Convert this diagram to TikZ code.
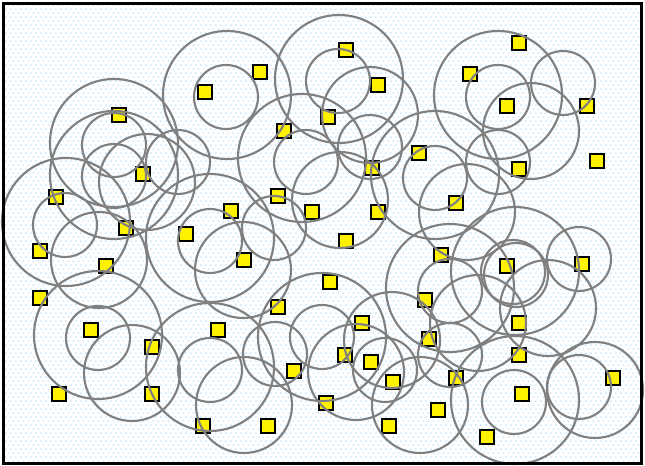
\documentclass[tikz,border=0pt]{standalone}
\usetikzlibrary{patterns}
\definecolor{rangegray}{RGB}{128,128,128}
\definecolor{dotblue}{RGB}{200,232,252}
\pgfdeclarepatternformonly{fielddots}{\pgfqpoint{-0.5pt}{-0.5pt}}{\pgfqpoint{4pt}{6.5pt}}{\pgfqpoint{3.75pt}{6pt}}{
  \pgfpathrectangle{\pgfqpoint{0pt}{0pt}}{\pgfqpoint{1.2pt}{1.2pt}}
  \pgfpathrectangle{\pgfqpoint{1.875pt}{3pt}}{\pgfqpoint{1.2pt}{1.2pt}}
  \pgfusepath{fill}}
\tikzset{
  sensor/.style={draw=black, fill=yellow, line width=1.5pt, minimum size=10.5pt, inner sep=0pt},
  sensing/.style={draw=rangegray, line width=1.6pt},
  frame/.style={draw=black, line width=2.25pt}
}
\begin{document}
\begin{tikzpicture}[x=0.75pt,y=-0.75pt]
  \useasboundingbox (0,0) rectangle (645,466);
  \fill[pattern=fielddots, pattern color=dotblue] (3.5,3.5) rectangle (641.5,463);
  \foreach \x/\y [count=\i] in {346/50,260/72,205/92,378/85,519/43,470/74,507/106,587/106,
    119/115,328/117,284/131,419/153,597/161,143/174,372/168,519/169,56/197,278/196,456/203,
    231/211,312/212,378/212,126/228,186/234,346/241,40/251,244/260,441/255,106/266,507/266,
    582/264,330/282,40/298,278/307,425/300,91/330,218/330,362/323,519/323,152/347,429/339,
    345/355,371/362,519/355,294/371,456/378,393/382,613/378,59/394,152/394,522/394,326/403,
    438/410,203/426,268/426,389/426,487/437}
    \node[sensor] (s\i) at (\x,\y) {};
  \foreach \x/\y/\r in {227/95/64,226/97/32,339/79/64,338/81/32,370/115/48,498/95/64,
    498/97/32,563/83/32,531/131/48,498/162/32,114/143/64,114/145/32,114/175/64,114/176/32,
    178/162/32,147/182/48,66/222/64,65/225/32,99/260/48,210/238/64,210/241/32,243/270/48,
    302/158/64,306/162/32,370/147/32,435/175/64,435/178/32,467/212/48,340/200/48,274/228/32,
    515/271/64,513/272/32,516/275/32,579/259/32,548/308/48,450/288/64,450/291/32,478/323/48,
    450/355/32,98/335/64,98/338/32,132/373/48,210/367/64,210/370/32,244/405/48,275/354/32,
    322/337/64,322/337/32,356/372/48,385/370/32,392/340/48,420/405/48,515/400/64,514/402/32,
    595/390/48,579/387/32}
    \draw[sensing] (\x,\y) circle[radius=0.75*\r pt];
  \draw[frame] (3.5,3.5) rectangle (641.5,463);
\end{tikzpicture}
\end{document}
